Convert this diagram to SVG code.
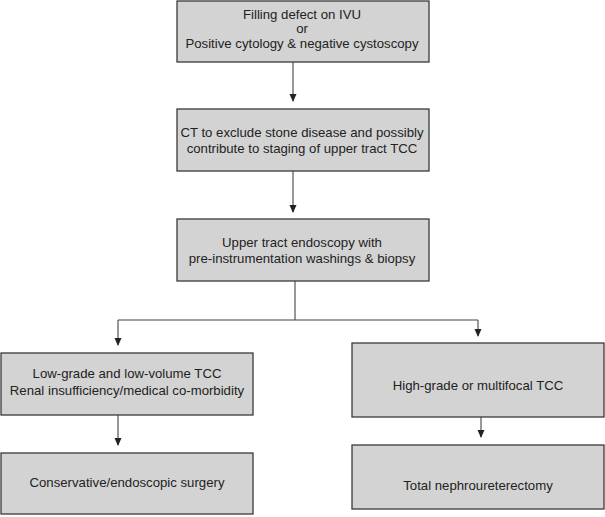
<svg xmlns="http://www.w3.org/2000/svg" width="605" height="517" viewBox="0 0 605 517">
<style>
.box{fill:#d3d3d3;stroke:#3a3a3a;stroke-width:1.3}
.t{font-family:"Liberation Sans",Arial,sans-serif;font-size:13.2px;fill:#222;text-anchor:middle}
.ln{stroke:#444;stroke-width:1.1;fill:none}
</style>
<defs>
<marker id="ah" markerWidth="8" markerHeight="9" refX="7" refY="4" orient="auto" markerUnits="userSpaceOnUse">
<path d="M0,0.5 L8,4 L0,7.5 z" fill="#222"/>
</marker>
</defs>
<rect width="605" height="517" fill="#fff"/>
<g id="connectors">
<line class="ln" x1="293" y1="62" x2="293" y2="101" marker-end="url(#ah)"/>
<line class="ln" x1="293" y1="171" x2="293" y2="212" marker-end="url(#ah)"/>
<line class="ln" x1="295" y1="281" x2="295" y2="320"/>
<line class="ln" x1="118" y1="320" x2="478" y2="320"/>
<line class="ln" x1="118" y1="320" x2="118" y2="345" marker-end="url(#ah)"/>
<line class="ln" x1="478" y1="320" x2="478" y2="336" marker-end="url(#ah)"/>
<line class="ln" x1="118" y1="415" x2="118" y2="445" marker-end="url(#ah)"/>
<line class="ln" x1="481" y1="417" x2="481" y2="437" marker-end="url(#ah)"/>
</g>
<g id="n1">
<rect class="box" x="177" y="1" width="252" height="61"/>
<text class="t" x="302" y="19">Filling defect on IVU</text>
<text class="t" x="302" y="33">or</text>
<text class="t" x="302" y="48">Positive cytology &amp; negative cystoscopy</text>
</g>
<g id="n2">
<rect class="box" x="177" y="109" width="252" height="62"/>
<text class="t" x="302" y="137">CT to exclude stone disease and possibly</text>
<text class="t" x="302" y="153">contribute to staging of upper tract TCC</text>
</g>
<g id="n3">
<rect class="box" x="177" y="219" width="252" height="62"/>
<text class="t" x="302" y="247">Upper tract endoscopy with</text>
<text class="t" x="302" y="263">pre-instrumentation washings &amp; biopsy</text>
</g>
<g id="n4">
<rect class="box" x="1" y="353" width="252" height="62"/>
<text class="t" x="127" y="378">Low-grade and low-volume TCC</text>
<text class="t" x="127" y="395">Renal insufficiency/medical co-morbidity</text>
</g>
<g id="n5">
<rect class="box" x="1" y="453" width="252" height="61"/>
<text class="t" x="127" y="487">Conservative/endoscopic surgery</text>
</g>
<g id="n6">
<rect class="box" x="352" y="343" width="252" height="74"/>
<text class="t" x="478" y="390">High-grade or multifocal TCC</text>
</g>
<g id="n7">
<rect class="box" x="352" y="445" width="252" height="64"/>
<text class="t" x="478" y="490">Total nephroureterectomy</text>
</g>
</svg>
